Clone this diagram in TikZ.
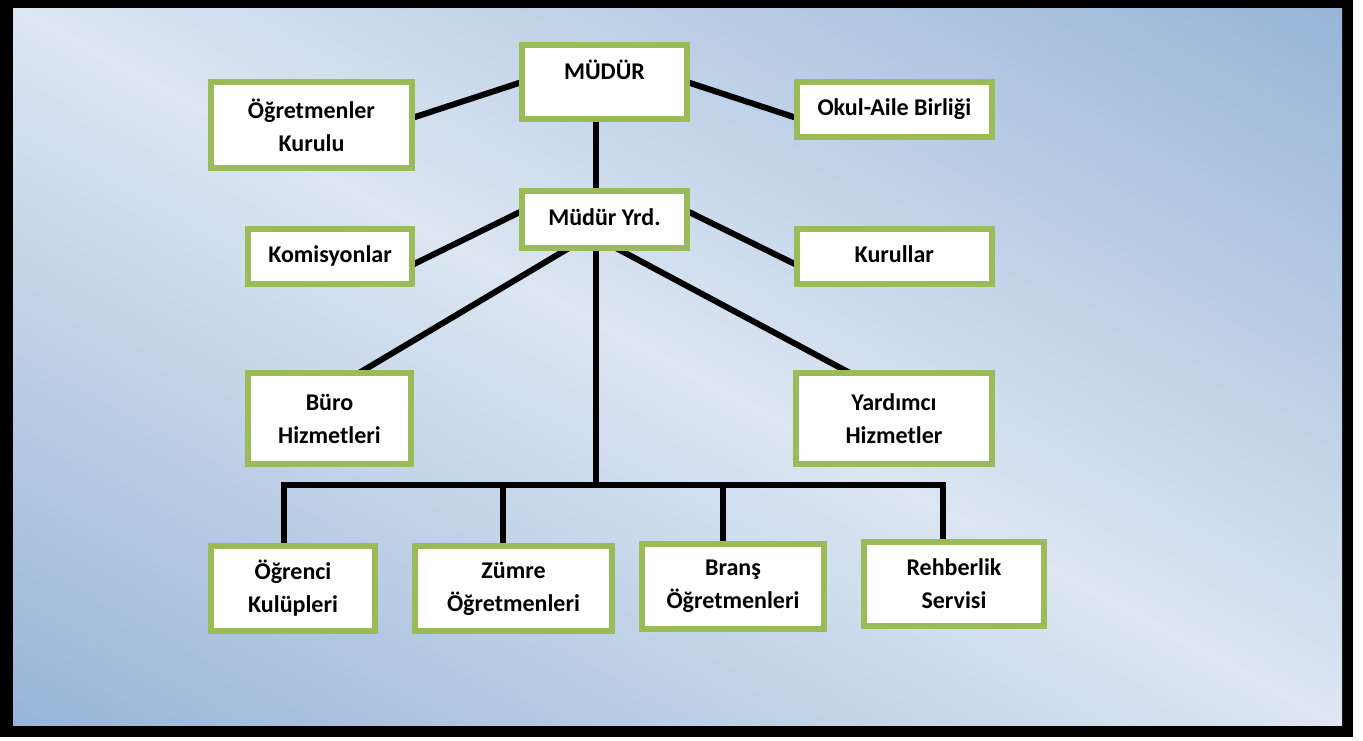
\documentclass[tikz,border=0pt]{standalone}
\usepackage{fontspec}
\setmainfont{Carlito}
\usetikzlibrary{backgrounds}
\definecolor{boxgreen}{HTML}{9BBB59}
\definecolor{bgblue}{HTML}{95B3D7}
\definecolor{bglight}{HTML}{DCE6F2}
\pgfdeclarehorizontalshading{bgshade}{100bp}{color(0bp)=(bgblue); color(14.6bp)=(bgblue); color(50bp)=(bglight); color(85.4bp)=(bgblue); color(100bp)=(bgblue)}
\begin{document}
\begin{tikzpicture}[x=1pt,y=-1pt,
  box/.style={draw=boxgreen, line width=6pt, fill=white, inner sep=0pt, outer sep=0pt,
    align=center, font=\bfseries\fontsize{24}{33}\selectfont},
  oneline/.style={text height=16pt, text depth=5pt},
  conn/.style={line width=6pt, draw=black}]
\useasboundingbox (0,0) rectangle (1363,740);
% boxes
\node[box, minimum width=165pt, minimum height=74pt, text height=34pt, text depth=40pt] (mudur) at (604.5,82) {MÜDÜR};
\node[box, minimum width=201pt, minimum height=86pt] (ogr) at (311.5,125) {Öğretmenler\\Kurulu};
\node[box, oneline, minimum width=195pt, minimum height=55pt] (okul) at (894.3,109.5) {Okul-Aile Birliği};
\node[box, oneline, minimum width=165pt, minimum height=57pt] (yrd) at (604.5,219.5) {Müdür Yrd.};
\node[box, oneline, minimum width=164pt, minimum height=55pt] (kom) at (330,256.5) {Komisyonlar};
\node[box, oneline, minimum width=195pt, minimum height=55pt] (kur) at (894.3,256.5) {Kurullar};
\node[box, minimum width=163pt, minimum height=91pt] (buro) at (329.5,418.5) {Büro\\Hizmetleri};
\node[box, minimum width=196pt, minimum height=91pt] (yard) at (894,418.5) {Yardımcı\\Hizmetler};
\node[box, minimum width=164pt, minimum height=85pt] (ogrk) at (293,588.5) {Öğrenci\\Kulüpleri};
\node[box, minimum width=197pt, minimum height=85pt] (zum) at (513.5,588.5) {Zümre\\Öğretmenleri};
\node[box, minimum width=182pt, minimum height=85pt] (brans) at (733,586.5) {Branş\\Öğretmenleri};
\node[box, minimum width=180pt, minimum height=84pt] (reh) at (954,584) {Rehberlik\\Servisi};
\coordinate (bus) at (596,485);
\coordinate (d1) at ([xshift=-9pt]ogrk.north);
\coordinate (d2) at ([xshift=-10.5pt]zum.north);
\coordinate (d3) at ([xshift=-10pt]brans.north);
\coordinate (d4) at ([xshift=-11pt]reh.north);
\begin{scope}[on background layer]
\fill[white] (0,0) rectangle (1363,740);
\fill[black] (0,0) rectangle (1353,737);
\shade[shading=bgshade, shading angle=61.6] (13,8) rectangle (1342,725);
\draw[conn] ([yshift=7pt]ogr.east) -- (mudur.west);
\draw[conn] (mudur.east) -- ([yshift=-8.5pt]okul.west);
\draw[conn] ([xshift=-8.5pt]mudur.south) -- ([xshift=-8.5pt]yrd.north);
\draw[conn] ([yshift=8.5pt]yrd.west) -- ([yshift=-8.5pt]kom.east);
\draw[conn] ([yshift=8.5pt]yrd.east) -- ([yshift=-8.5pt]kur.west);
\draw[conn] ([xshift=-35.5pt]yrd.south) -- ([xshift=29.5pt]buro.north);
\draw[conn] ([xshift=11.5pt]yrd.south) -- ([xshift=-44pt]yard.north);
\draw[conn] ([xshift=-8.5pt]yrd.south) -- (bus);
\draw[conn, line join=miter] (d1) |- (bus) -| (d4);
\draw[conn] (d2) -- (d2 |- bus);
\draw[conn] (d3) -- (d3 |- bus);
\end{scope}
\end{tikzpicture}
\end{document}
